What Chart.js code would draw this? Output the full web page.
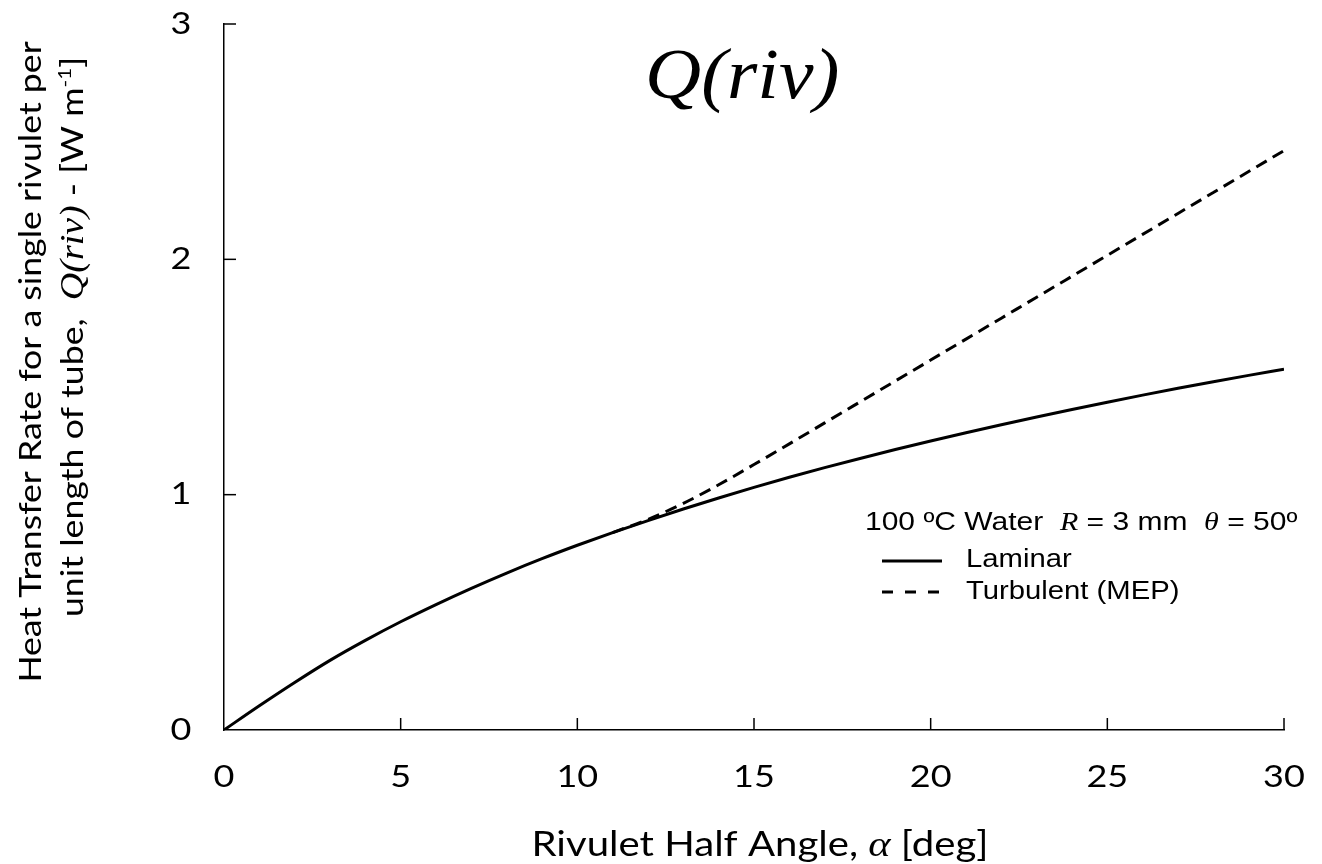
<!DOCTYPE html>
<html>
<head>
<meta charset="utf-8">
<script src="https://cdn.jsdelivr.net/npm/chart.js@4"></script>
<style>
  html, body { margin: 0; padding: 0; background: #fff; }
  #wrap { width: 1322px; height: 864px; position: relative; }
</style>
</head>
<body>
<div id="wrap"><canvas id="qriv"></canvas></div>
<script>
// Rivulet half angle (deg) and heat transfer per rivulet (W/m)
const alphaDeg = [0, 1, 2, 3, 4, 5, 6, 7, 8, 9, 10, 11, 12, 13, 14, 15,
                  16, 17, 18, 19, 20, 21, 22, 23, 24, 25, 26, 27, 28, 29, 30];
const laminarQ = [0, 0.103, 0.202, 0.296, 0.381, 0.460, 0.533, 0.602, 0.667, 0.728, 0.785,
                  0.839, 0.890, 0.939, 0.986, 1.031, 1.074, 1.115, 1.154, 1.192, 1.228,
                  1.263, 1.297, 1.330, 1.362, 1.393, 1.423, 1.452, 1.480, 1.507, 1.533];

// Turbulent (MEP) branch only exists beyond ~11 deg
const turbAlphaDeg = [11, 12, 13, 14, 15, 16, 17, 18, 19, 20, 21,
                      22, 23, 24, 25, 26, 27, 28, 29, 30];
const turbulentQ = [0.839, 0.895, 0.963, 1.042, 1.128, 1.216, 1.305, 1.394, 1.483, 1.572, 1.661,
                    1.750, 1.839, 1.928, 2.017, 2.106, 2.195, 2.284, 2.373, 2.462];

const xTicks = [0, 5, 10, 15, 20, 25, 30];
const yTicks = [0, 1, 2, 3];

const legendHeader = ['100 \u00baC Water  ', 'R', ' = 3 mm  ', '\u03b8', ' = 50\u00ba'];
const seriesNames = ['Laminar', 'Turbulent (MEP)'];

const sansFont = 'Lato, "Open Sans", sans-serif';
const legendFont = '"Liberation Sans", Arial, sans-serif';

function toPoints(xs, ys) {
  return xs.map((x, i) => ({ x: x, y: ys[i] }));
}

function fontFor(run, size) {
  return run.italic ? `italic ${size}px "Liberation Serif", serif` : `${size}px ${run.family}`;
}

// Draw a run of text pieces, mixing upright sans with italic serif symbols
function drawRuns(ctx, runs, x, y, size, stretch) {
  ctx.save();
  ctx.translate(x, y);
  ctx.scale(stretch, 1);
  let cx = 0;
  runs.forEach(r => {
    const s = r.size || size;
    ctx.font = fontFor(r, s);
    ctx.fillText(r.text, cx, r.dy || 0);
    cx += ctx.measureText(r.text).width;
  });
  ctx.restore();
}

function runsWidth(ctx, runs, size, stretch) {
  let w = 0;
  runs.forEach(r => {
    ctx.font = fontFor(r, r.size || size);
    w += ctx.measureText(r.text).width;
  });
  return w * stretch;
}

// centred, horizontally widened tick number
function drawTickLabel(ctx, text, cx, cy) {
  ctx.save();
  ctx.translate(cx, cy);
  ctx.scale(1.2, 1);
  ctx.font = `30px ${sansFont}`;
  ctx.textAlign = 'center';
  ctx.textBaseline = 'middle';
  ctx.fillText(text, 0, 0);
  ctx.restore();
}

// Inward tick marks, tick numbers, titles and the hand-laid legend
const decorations = {
  id: 'decorations',
  afterDraw(chart) {
    const ctx = chart.ctx;
    const xs = chart.scales.x;
    const ys = chart.scales.y;
    const area = chart.chartArea;

    ctx.save();
    ctx.strokeStyle = '#000';
    ctx.fillStyle = '#000';
    ctx.lineWidth = 1.5;
    xTicks.forEach(v => {
      const px = xs.getPixelForValue(v);
      if (v > 0) {
        ctx.beginPath();
        ctx.moveTo(px, area.bottom);
        ctx.lineTo(px, area.bottom - 12);
        ctx.stroke();
      }
      drawTickLabel(ctx, String(v), px, area.bottom + 47);
    });
    yTicks.forEach(v => {
      const py = ys.getPixelForValue(v);
      if (v > 0) {
        ctx.beginPath();
        ctx.moveTo(area.left, py);
        ctx.lineTo(area.left + 12, py);
        ctx.stroke();
      }
      drawTickLabel(ctx, String(v), area.left - 43, py);
    });

    ctx.textBaseline = 'alphabetic';

    // big italic heading
    drawRuns(ctx, [{ text: 'Q(riv)', italic: true }], 645, 98, 72, 1.08);

    // x axis title
    const xRuns = [
      { text: 'Rivulet Half Angle, ', family: sansFont },
      { text: '\u03b1', italic: true, size: 36 },
      { text: ' [deg]', family: sansFont }
    ];
    const xw = runsWidth(ctx, xRuns, 34, 1.18);
    drawRuns(ctx, xRuns, 760 - xw / 2, 856, 34, 1.18);

    // y axis title, two rotated lines
    const yLine1 = [{ text: 'Heat Transfer Rate for a single rivulet per', family: sansFont }];
    const yLine2 = [
      { text: 'unit length of tube,  ', family: sansFont },
      { text: 'Q(riv)', italic: true, size: 33 },
      { text: ' - [W m', family: sansFont },
      { text: '-1', family: sansFont, size: 18, dy: -12 },
      { text: ']', family: sansFont }
    ];
    ctx.save();
    ctx.translate(0, 362);
    ctx.rotate(-Math.PI / 2);
    const w1 = runsWidth(ctx, yLine1, 31, 1.15);
    drawRuns(ctx, yLine1, -w1 / 2, 41, 31, 1.15);
    const w2 = runsWidth(ctx, yLine2, 31, 1.15);
    drawRuns(ctx, yLine2, -w2 / 2 + 25, 83, 31, 1.15);
    ctx.restore();

    // legend block
    const headerRuns = legendHeader.map((t, i) => (
      i % 2 === 1 ? { text: t, italic: true } : { text: t, family: legendFont }
    ));
    drawRuns(ctx, headerRuns, 865, 530, 25, 1.2);

    ctx.lineWidth = 3;
    ctx.beginPath();
    ctx.moveTo(882, 561);
    ctx.lineTo(942, 561);
    ctx.stroke();
    ctx.setLineDash([11, 12]);
    ctx.beginPath();
    ctx.moveTo(882, 592);
    ctx.lineTo(942, 592);
    ctx.stroke();
    ctx.setLineDash([]);

    drawRuns(ctx, [{ text: seriesNames[0], family: legendFont }], 966, 567, 25, 1.17);
    drawRuns(ctx, [{ text: seriesNames[1], family: legendFont }], 966, 599, 25, 1.17);
    ctx.restore();
  }
};

// keep the plot frame fixed regardless of tick label overhang
function fixScalePadding(scale) {
  scale.paddingTop = 0;
  scale.paddingBottom = 0;
  scale.paddingLeft = 0;
  scale.paddingRight = 0;
}

new Chart(document.getElementById('qriv'), {
  type: 'scatter',
  data: {
    datasets: [
      {
        label: seriesNames[0],
        data: toPoints(alphaDeg, laminarQ),
        showLine: true,
        borderColor: '#000',
        borderWidth: 3,
        pointRadius: 0,
        cubicInterpolationMode: 'monotone'
      },
      {
        label: seriesNames[1],
        data: toPoints(turbAlphaDeg, turbulentQ),
        showLine: true,
        borderColor: '#000',
        borderWidth: 3,
        borderDash: [12, 7],
        pointRadius: 0,
        cubicInterpolationMode: 'monotone'
      }
    ]
  },
  options: {
    responsive: true,
    maintainAspectRatio: false,
    animation: false,
    layout: { padding: { top: 24, right: 38, left: 0, bottom: 0 } },
    plugins: {
      legend: { display: false },
      tooltip: { enabled: false }
    },
    scales: {
      x: {
        type: 'linear',
        min: 0,
        max: 30,
        afterFit: scale => { scale.height = 134; fixScalePadding(scale); },
        afterBuildTicks: scale => { scale.ticks = xTicks.map(v => ({ value: v })); },
        grid: { display: false, drawTicks: false },
        border: { display: true, color: '#000', width: 1.5 },
        ticks: { display: false }
      },
      y: {
        min: 0,
        max: 3,
        afterFit: scale => { scale.width = 224; fixScalePadding(scale); },
        afterBuildTicks: scale => { scale.ticks = yTicks.map(v => ({ value: v })); },
        grid: { display: false, drawTicks: false },
        border: { display: true, color: '#000', width: 1.5 },
        ticks: { display: false }
      }
    }
  },
  plugins: [decorations]
});
</script>
</body>
</html>
